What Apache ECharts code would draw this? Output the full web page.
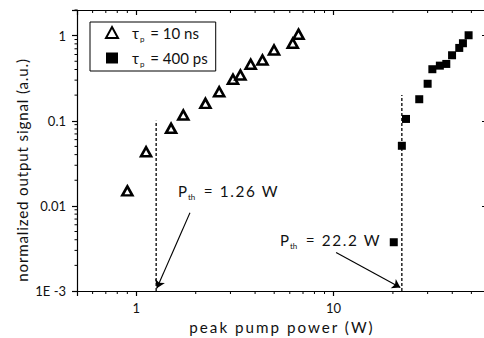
<!DOCTYPE html>
<html>
<head>
<meta charset="utf-8">
<script src="https://cdn.jsdelivr.net/npm/echarts@6/dist/echarts.min.js"></script>
<style>
  html, body { margin: 0; padding: 0; background: #fff; }
  #chart { width: 484px; height: 338px; }
  /* wide letter spacing of the original figure, keyed on the font sizes used below */
  #chart text[style*="15.2px"] { letter-spacing: 2px; }
  #chart text[style*="15.1px"] { letter-spacing: 0.85px; }
  #chart text[style*="15.3px"] { letter-spacing: 1.6px; }
</style>
</head>
<body>
<div id="chart"></div>
<script>
// tau_p = 10 ns (open triangles)
var ns10X = [0.90, 1.12, 1.50, 1.73, 2.24, 2.63, 3.09, 3.37, 3.80, 4.36, 4.99, 6.21, 6.64];
var ns10Y = [0.0150, 0.0432, 0.0814, 0.117, 0.160, 0.219, 0.307, 0.345, 0.461, 0.518, 0.679, 0.814, 1.04];
// tau_p = 400 ps (filled squares)
var ps400X = [20.2, 22.2, 23.3, 27.2, 30.0, 31.7, 34.6, 37.3, 39.9, 43.4, 45.3, 48.4];
var ps400Y = [0.00374, 0.0508, 0.105, 0.179, 0.272, 0.403, 0.444, 0.465, 0.588, 0.717, 0.814, 1.01];

// thresholds (dashed verticals) and arrows
var thrX = [1.26, 22.2];
var thrTop = [0.1, 0.2];
var arrowFrom = [[1.87, 0.0083], [10.3, 0.00283]];
var arrowTo = [[1.27, 0.00108], [21.8, 0.0011]];

// axes
var xMinor = [0.6, 0.7, 0.8, 0.9, 2, 3, 4, 5, 6, 7, 8, 9, 20, 30, 40, 50];
var yMinor = [0.002, 0.003, 0.004, 0.005, 0.006, 0.007, 0.008, 0.009,
              0.02, 0.03, 0.04, 0.05, 0.06, 0.07, 0.08, 0.09,
              0.2, 0.3, 0.4, 0.5, 0.6, 0.7, 0.8, 0.9, 2];
var xTickLabels = { '0': '1', '1': '10' };
var yTickLabels = { '0': '1', '-1': '0.1', '-2': '0.01', '-3': '1E -3' };

var X_MIN = 0.5, X_MAX = 60, Y_MIN = 0.001, Y_MAX = 2;
var FONT = 'Lato';

function zip(a, b) {
    return a.map(function (v, i) { return [v, b[i]]; });
}
function powLabel(map) {
    return function (v) {
        var e = Math.log10(v);
        var r = Math.round(e);
        if (Math.abs(e - r) > 1e-6) return '';
        return map[String(r)] || '';
    };
}

var chart = echarts.init(document.getElementById('chart'), null, { renderer: 'svg' });

function logAxis(pos, min, max, inside, labels) {
    return {
        type: 'log', logBase: 10, position: pos, min: min, max: max,
        axisLine: { show: true, onZero: false, lineStyle: { color: '#000', width: 1.2 } },
        axisTick: { show: true, inside: inside, length: 5, lineStyle: { color: '#000', width: 1.2 } },
        axisLabel: labels ? {
            show: true, color: '#111', fontFamily: FONT, fontSize: 13, margin: 10,
            formatter: labels, showMinLabel: true, showMaxLabel: true
        } : { show: false },
        splitLine: { show: false },
        minorTick: { show: false }
    };
}

var xAxes = [
    logAxis('bottom', X_MIN, X_MAX, false, powLabel(xTickLabels)),
    logAxis('top', X_MIN, X_MAX, true, null)
];
xAxes[0].name = 'peak pump power (W)';
xAxes[0].nameLocation = 'middle';
xAxes[0].nameGap = 28;
xAxes[0].nameTextStyle = { color: '#111', fontFamily: FONT, fontSize: 15.2 };

var yAxes = [
    logAxis('left', Y_MIN, Y_MAX, false, powLabel(yTickLabels)),
    logAxis('right', Y_MIN, Y_MAX, true, null)
];
yAxes[0].axisLabel.margin = 11;

// minor ticks drawn through the axis scales
function minorTicks(dir) {
    return {
        type: 'custom', silent: true, clip: false, z: 5,
        xAxisIndex: 0, yAxisIndex: 0,
        data: dir === 'x' ? xMinor.map(function (v) { return [v, Y_MIN]; })
                          : yMinor.map(function (v) { return [X_MIN, v]; }),
        renderItem: function (params, api) {
            var v = dir === 'x' ? api.value(0) : api.value(1);
            var st = { stroke: '#000', lineWidth: 1 };
            if (dir === 'x') {
                var b = api.coord([v, Y_MIN]);
                var t = api.coord([v, Y_MAX]);
                return { type: 'group', children: [
                    { type: 'line', shape: { x1: b[0], y1: b[1], x2: b[0], y2: b[1] + 3 }, style: st },
                    { type: 'line', shape: { x1: t[0], y1: t[1], x2: t[0], y2: t[1] + 3 }, style: st }
                ] };
            }
            var l = api.coord([X_MIN, v]);
            var r = api.coord([X_MAX, v]);
            return { type: 'group', children: [
                { type: 'line', shape: { x1: l[0] - 2.5, y1: l[1], x2: l[0], y2: l[1] }, style: st },
                { type: 'line', shape: { x1: r[0] - 3, y1: r[1], x2: r[0], y2: r[1] }, style: st }
            ] };
        }
    };
}

var series = [
    {
        name: 'tau10', type: 'scatter', symbol: 'triangle', symbolSize: [10, 9],
        itemStyle: { color: '#fff', borderColor: '#000', borderWidth: 2.6, opacity: 1 },
        data: zip(ns10X, ns10Y), z: 10
    },
    {
        name: 'tau400', type: 'scatter', symbol: 'rect', symbolSize: 8,
        itemStyle: { color: '#000', opacity: 1 },
        data: zip(ps400X, ps400Y), z: 10
    },
    minorTicks('x'),
    minorTicks('y')
];

thrX.forEach(function (x, i) {
    series.push({
        type: 'line', symbol: 'none', silent: true, z: 4,
        lineStyle: { color: '#000', width: 1.3, type: [3, 2] },
        data: [[x, Y_MIN], [x, thrTop[i]]]
    });
});

series.push({
    type: 'line', data: [], silent: true,
    markLine: {
        silent: true, symbol: ['none', 'arrow'], symbolSize: 8,
        label: { show: false },
        lineStyle: { color: '#000', width: 1.1, type: 'solid' },
        data: arrowFrom.map(function (f, i) {
            return [{ coord: f }, { coord: arrowTo[i] }];
        })
    }
});

function pthText(val) {
    return '{p|P}{s|th}{q| = ' + val + ' W}';
}
var richPth = {
    p: { fontFamily: FONT, fontSize: 15, fill: '#111' },
    q: { fontFamily: FONT, fontSize: 15.3, fill: '#111' },
    s: { fontFamily: FONT, fontSize: 8, fill: '#111', padding: [12, 3, 0, 1] }
};

chart.setOption({
    animation: false,
    backgroundColor: '#fff',
    grid: { left: 77, right: -3, top: 10, bottom: 47, outerBoundsMode: 'none' },
    xAxis: xAxes,
    yAxis: yAxes,
    legend: {
        data: ['tau10', 'tau400'],
        orient: 'vertical', left: 90, top: 22,
        borderColor: '#000', borderWidth: 1,
        padding: [3, 8, 3, 15],
        itemWidth: 12, itemHeight: 11, itemGap: 8,
        selectedMode: false,
        formatter: function (name) {
            return '{g|τ}{s|p}{t| = ' + (name === 'tau10' ? '10 ns' : '400 ps') + '}';
        },
        textStyle: {
            color: '#111', fontFamily: FONT, fontSize: 15,
            rich: {
                g: { fontFamily: FONT, fontSize: 15, padding: [0, 0, 0, 9] },
                t: { fontFamily: FONT, fontSize: 15 },
                s: { fontFamily: FONT, fontSize: 8, padding: [12, 2, 0, 1] }
            }
        }
    },
    graphic: [
        // y axis title, placed like the original (a bit below the plot centre)
        {
            type: 'text', x: 21.5, y: 170, rotation: Math.PI / 2,
            style: {
                text: 'normalized output signal (a.u.)', fill: '#111',
                fontFamily: FONT, fontSize: 15.1, align: 'center', verticalAlign: 'middle'
            }
        },
        { type: 'text', left: 178, top: 183, style: { text: pthText('1.26'), rich: richPth } },
        { type: 'text', left: 280, top: 232, style: { text: pthText('22.2'), rich: richPth } }
    ],
    series: series
});
</script>
</body>
</html>
